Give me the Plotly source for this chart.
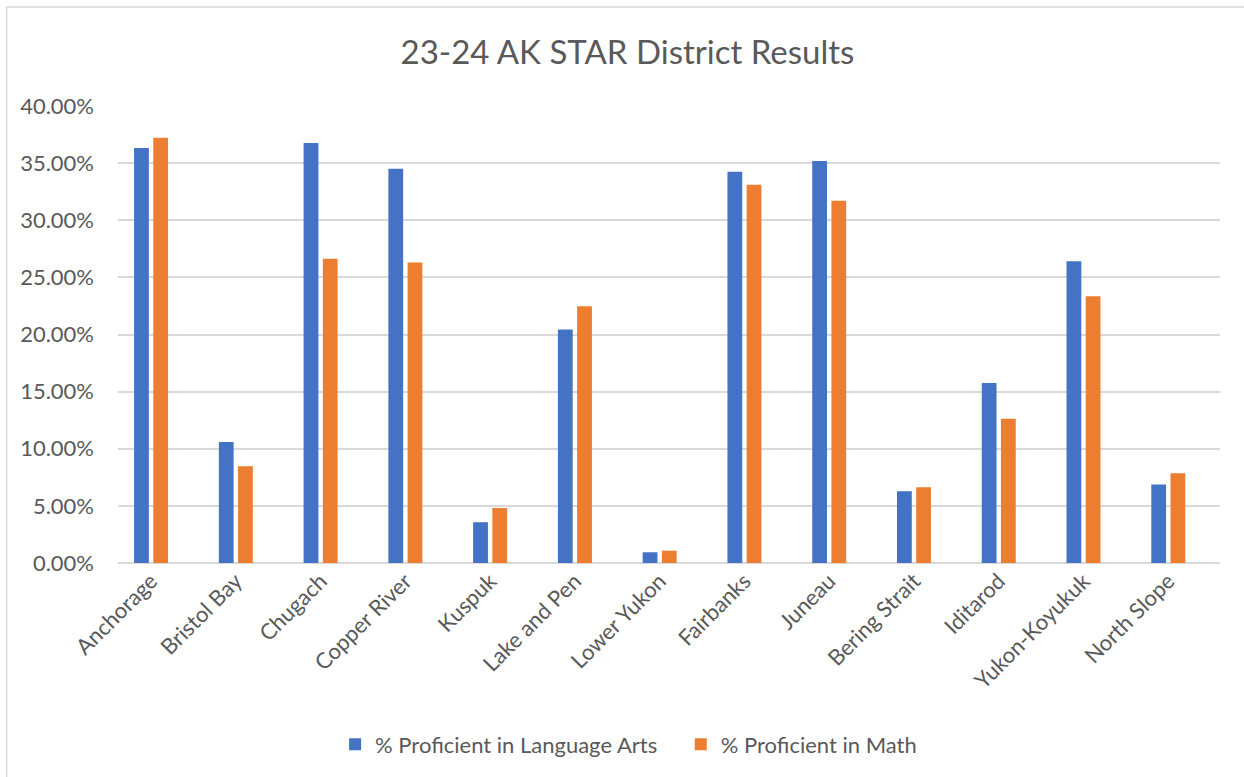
import plotly.graph_objects as go

districts = ["Anchorage", "Bristol Bay", "Chugach", "Copper River", "Kuspuk",
             "Lake and Pen", "Lower Yukon", "Fairbanks", "Juneau", "Bering Strait",
             "Iditarod", "Yukon-Koyukuk", "North Slope"]
language_arts = [0.3632, 0.1058, 0.3676, 0.3451, 0.0357, 0.2043, 0.0094,
                 0.3425, 0.3518, 0.0628, 0.1575, 0.2642, 0.0687]
math = [0.3723, 0.0847, 0.2662, 0.2630, 0.0482, 0.2247, 0.0108,
        0.3311, 0.3171, 0.0663, 0.1262, 0.2335, 0.0786]
y_ticks = [0, 0.05, 0.10, 0.15, 0.20, 0.25, 0.30, 0.35, 0.40]
y_tick_labels = ["0.00%", "5.00%", "10.00%", "15.00%", "20.00%",
                 "25.00%", "30.00%", "35.00%", "40.00%"]

FONT = "Lato"
TXT = "#595959"

fig = go.Figure()
fig.add_trace(go.Bar(x=districts, y=language_arts, name="% Proficient in Language Arts",
                     marker=dict(color="#4472C4", line=dict(width=0)),
                     legend="legend", showlegend=True))
fig.add_trace(go.Bar(x=districts, y=math, name="% Proficient in Math",
                     marker=dict(color="#ED7D31", line=dict(width=0)),
                     legend="legend2", showlegend=True))

legend_style = dict(orientation="h", xanchor="left", y=-0.397, yanchor="middle",
                    font=dict(size=22, color=TXT), bgcolor="rgba(0,0,0,0)")

fig.update_layout(
    width=1244, height=777,
    showlegend=True,
    margin=dict(l=118, r=24, t=106, b=214, pad=0),
    paper_bgcolor="white", plot_bgcolor="white",
    barmode="group", bargap=0.547, bargroupgap=0.23,
    font=dict(family=FONT, color=TXT, size=22),
    title=dict(text="23-24 AK STAR District Results", x=0.5044, xanchor="center",
               y=0.933, yanchor="middle",
               font=dict(family=FONT, size=33, color=TXT)),
    xaxis=dict(range=[-0.39, 12.61], tickangle=-45, showgrid=False,
               showline=False, ticks="", tickfont=dict(size=22, color=TXT)),
    yaxis=dict(range=[0, 0.4], tickvals=y_ticks, ticktext=y_tick_labels,
               showgrid=True, gridcolor="#D9D9D9", gridwidth=1.5,
               zeroline=True, zerolinecolor="#D9D9D9", zerolinewidth=1.5,
               showline=False, ticks="", ticklabelstandoff=23,
               tickfont=dict(size=22, color=TXT)),
    legend=dict(x=0.197, visible=True, **legend_style),
    legend2=dict(x=0.5107, visible=True, **legend_style),
    shapes=[dict(type="rect", xref="paper", yref="paper",
                 x0=-0.101, y0=-0.6, x1=1.1, y1=1.2165,
                 line=dict(color="#D9D9D9", width=1.5), layer="below")],
)

fig.write_html("out.html", config={"displayModeBar": False},
               post_script="document.body.style.margin='0';")
